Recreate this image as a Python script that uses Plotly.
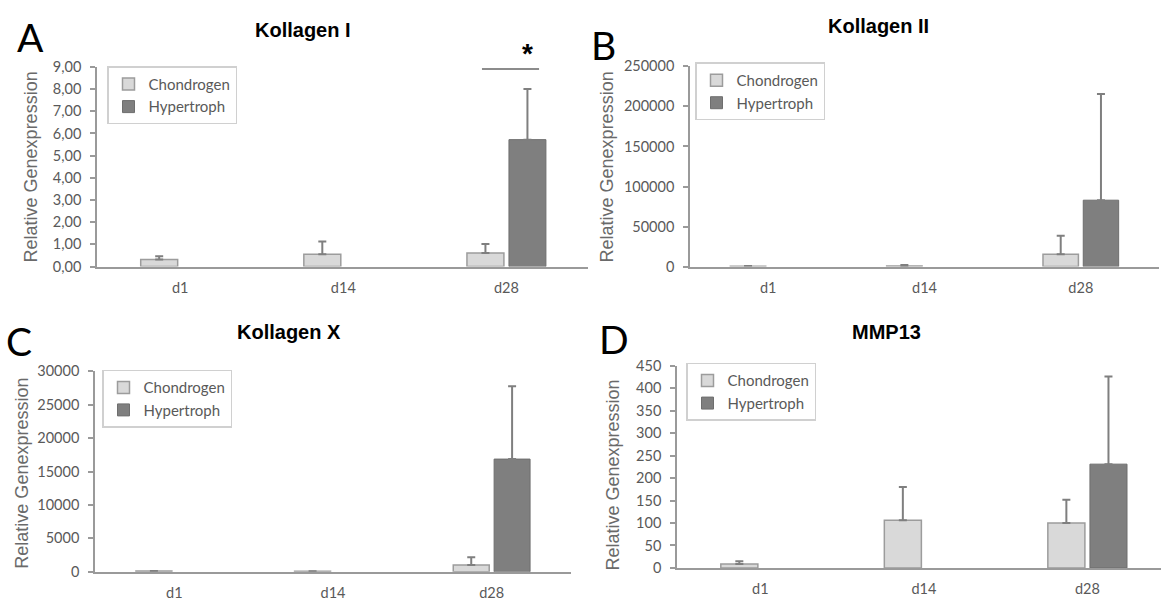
import plotly.graph_objects as go

W, H = 1161, 609

categories = ["d1", "d14", "d28"]
series_names = ["Chondrogen", "Hypertroph"]

# Panel A - Kollagen I
colI_chondro = [0.32, 0.56, 0.61]
colI_chondro_err = [0.15, 0.57, 0.41]
colI_hyper = [None, None, 5.72]
colI_hyper_err = [0, 0, 2.28]

# Panel B - Kollagen II
colII_chondro = [500, 800, 15400]
colII_chondro_err = [300, 1200, 23100]
colII_hyper = [None, None, 82900]
colII_hyper_err = [0, 0, 132700]

# Panel C - Kollagen X
colX_chondro = [120, 100, 1020]
colX_chondro_err = [0, 0, 1160]
colX_hyper = [None, None, 16860]
colX_hyper_err = [0, 0, 10900]

# Panel D - MMP13
mmp_chondro = [9, 106, 100]
mmp_chondro_err = [6, 74, 52]
mmp_hyper = [None, None, 231]
mmp_hyper_err = [0, 0, 195]

titles = ["Kollagen I", "Kollagen II", "Kollagen X", "MMP13"]
letters = ["A", "B", "C", "D"]
y_title = "Relative Genexpression"

C_FILL, C_LINE = "#d9d9d9", "#9c9c9c"
H_FILL, H_LINE = "#7f7f7f", "#6e6e6e"
ERR_COL = "#7f7f7f"
AX_COL = "#9a9a9a"
TXT_COL = "#595959"
TICK_FONT = dict(family="Lato", size=14.5, color=TXT_COL)


def px(x):
    return x / W


def py(y):
    return 1 - y / H


panels = [
    dict(data=(colI_chondro, colI_chondro_err, colI_hyper, colI_hyper_err),
         xdom=(97, 588), ydom=(59.5, 265), xr=[-0.51, 2.5], yr=[0, 9], dtick=1, fmt=".2f",
         legend=(107, 59), title=(303, 22), letter=(30, 29), ytitle=(31, 163)),
    dict(data=(colII_chondro, colII_chondro_err, colII_hyper, colII_hyper_err),
         xdom=(690, 1159), ydom=(59, 265), xr=[-0.5, 2.5], yr=[0, 250000], dtick=50000, fmt="d",
         legend=(695, 55), title=(878, 18), letter=(603, 37), ytitle=(607, 163)),
    dict(data=(colX_chondro, colX_chondro_err, colX_hyper, colX_hyper_err),
         xdom=(95, 571), ydom=(372.6, 579), xr=[-0.5, 2.5], yr=[0, 30000], dtick=5000, fmt="d",
         legend=(102, 371), title=(289, 332), letter=(19, 342), ytitle=(22, 478)),
    dict(data=(mmp_chondro, mmp_chondro_err, mmp_hyper, mmp_hyper_err),
         xdom=(677, 1161), ydom=(367, 575), xr=[-0.51, 2.45], yr=[0, 450], dtick=50, fmt="d",
         legend=(686, 364), title=(886, 332), letter=(614, 339), ytitle=(613, 480)),
]

fig = go.Figure()
layout = dict(
    width=W, height=H, autosize=False,
    margin=dict(l=0, r=0, t=0, b=0),
    paper_bgcolor="white", plot_bgcolor="white",
    separators=",.",
    barmode="group", bargap=0.485, bargroupgap=0.12,
    showlegend=True,
    annotations=[], shapes=[],
)

for i, p in enumerate(panels):
    n = "" if i == 0 else str(i + 1)
    xa, ya = "x" + n, "y" + n
    lg = "legend" + n
    ch, che, hy, hye = p["data"]
    fig.add_trace(go.Bar(
        x=categories, y=ch, name=series_names[0], xaxis=xa, yaxis=ya, legend=lg,
        marker=dict(color=C_FILL, line=dict(color=C_LINE, width=1.5)),
        error_y=dict(type="data", symmetric=False, array=che, arrayminus=[0] * 3,
                     color=ERR_COL, thickness=2, width=4),
    ))
    fig.add_trace(go.Bar(
        x=categories, y=hy, name=series_names[1], xaxis=xa, yaxis=ya, legend=lg,
        marker=dict(color=H_FILL, line=dict(color=H_LINE, width=1)),
        error_y=dict(type="data", symmetric=False, array=hye, arrayminus=[0] * 3,
                     color=ERR_COL, thickness=2, width=4),
    ))
    layout["xaxis" + n] = dict(
        domain=[px(p["xdom"][0]), px(p["xdom"][1])], anchor=ya, range=p["xr"],
        showline=True, linecolor=AX_COL, linewidth=1.5, ticks="", showgrid=False,
        tickfont=TICK_FONT, ticklabelstandoff=7, zeroline=False, fixedrange=True,
    )
    layout["yaxis" + n] = dict(
        domain=[py(p["ydom"][1]), py(p["ydom"][0])], anchor=xa, range=p["yr"],
        dtick=p["dtick"], tickformat=p["fmt"],
        showline=True, linecolor=AX_COL, linewidth=1.5, ticks="outside", ticklen=5,
        tickcolor=AX_COL, tickwidth=1.5, showgrid=False, zeroline=False,
        tickfont=TICK_FONT, ticklabelstandoff=6,
    )
    layout[lg] = dict(
        x=px(p["legend"][0]), y=py(p["legend"][1]), xanchor="left", yanchor="top",
        xref="paper", yref="paper",
        bgcolor="white", bordercolor="#d0d0d0", borderwidth=1.5,
        font=dict(family="Lato", size=15, color=TXT_COL),
        itemwidth=30, tracegroupgap=0,
    )
    layout["annotations"].append(dict(
        text="<b>%s</b>" % titles[i], x=px(p["title"][0]), y=py(p["title"][1]),
        xref="paper", yref="paper", xanchor="center", yanchor="middle", showarrow=False,
        font=dict(family="Liberation Sans", size=20, color="black"),
    ))
    layout["annotations"].append(dict(
        text=letters[i], x=px(p["letter"][0]), y=py(p["letter"][1]),
        xref="paper", yref="paper", xanchor="center", yanchor="middle", showarrow=False,
        font=dict(family="Lato", size=39, color="black"),
    ))
    layout["annotations"].append(dict(
        text=y_title, x=px(p["ytitle"][0]), y=py(p["ytitle"][1]), textangle=-90,
        xref="paper", yref="paper", xanchor="center", yanchor="middle", showarrow=False,
        font=dict(family="Liberation Sans", size=18, color="#6a6a6a"),
    ))

# significance bracket on panel A (d28)
sig_x = [1.85, 2.2]
sig_y = 8.9
sig_star_x = 2.13
layout["shapes"].append(dict(type="line", xref="x", yref="y", x0=sig_x[0], x1=sig_x[1],
                             y0=sig_y, y1=sig_y, line=dict(color="#8c8c8c", width=2)))
layout["annotations"].append(dict(text="<b>*</b>", x=sig_star_x, y=1.065,
                                  xref="x", yref="y domain",
                                  showarrow=False, xanchor="center", yanchor="middle",
                                  font=dict(family="Liberation Sans", size=28, color="black")))

fig.update_layout(**layout)
fig.write_html("out.html")
